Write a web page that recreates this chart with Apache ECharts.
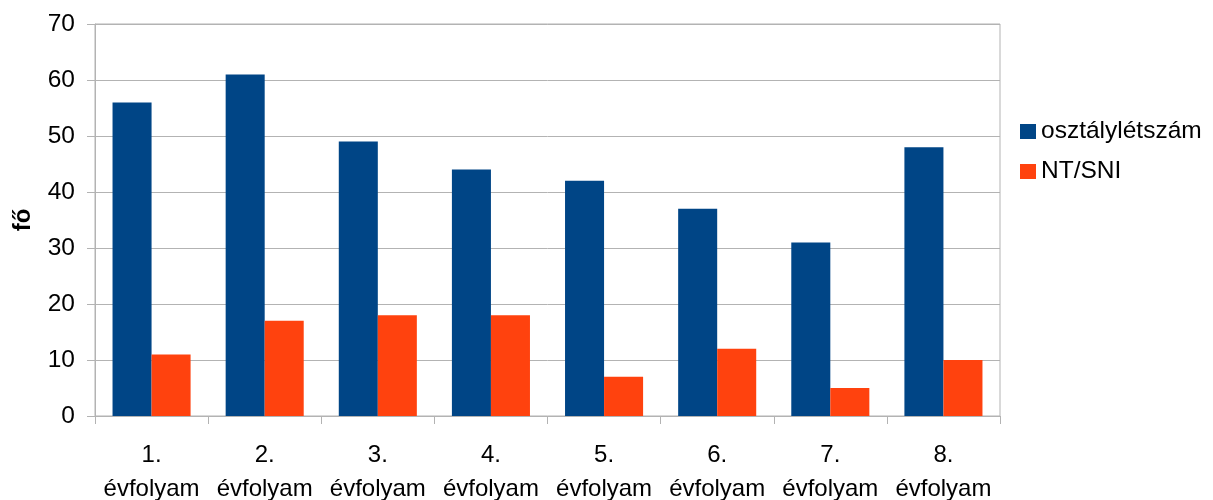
<!DOCTYPE html>
<html><head><meta charset="utf-8">
<script src="https://cdn.jsdelivr.net/npm/echarts@6/dist/echarts.min.js"></script>
<style>html,body{margin:0;padding:0;background:#fff;overflow:hidden}#c{width:1213px;height:500px}</style>
</head><body><div id="c"></div>
<script>
const categories = ["1.\névfolyam","2.\névfolyam","3.\névfolyam","4.\névfolyam","5.\névfolyam","6.\névfolyam","7.\névfolyam","8.\névfolyam"];
const osztalyletszam = [56, 61, 49, 44, 42, 37, 31, 48];
const ntSni = [11, 17, 18, 18, 7, 12, 5, 10];
const seriesNames = ["osztálylétszám", "NT/SNI"];
const yTicks = {min: 0, max: 70, interval: 10};

const chart = echarts.init(document.getElementById('c'));
const font = 'Liberation Sans, Arial, sans-serif';
chart.setOption({
  animation: false,
  textStyle: {fontFamily: font},
  grid: {left: 95, right: 213, top: 24, bottom: 84, outerBoundsMode: 'none', containLabel: false,
         show: true, borderColor: '#b3b3b3', borderWidth: 1},
  legend: {
    orient: 'vertical', left: 1015, top: 114, itemWidth: 16, itemHeight: 15, itemGap: 15,
    icon: 'rect',
    textStyle: {fontSize: 24.5, color: '#000', fontFamily: font},
    data: seriesNames
  },
  xAxis: {
    type: 'category', data: categories,
    axisLine: {lineStyle: {color: '#b3b3b3'}},
    axisTick: {show: true, length: 8, lineStyle: {color: '#b3b3b3'}},
    axisLabel: {fontSize: 24, color: '#000', lineHeight: 34, margin: 22, interval: 0}
  },
  yAxis: {
    type: 'value', min: yTicks.min, max: yTicks.max, interval: yTicks.interval,
    name: 'fő', nameLocation: 'middle', nameGap: 60, nameRotate: 90, nameMoveOverlap: false,
    nameTextStyle: {fontSize: 24, fontWeight: 'bold', color: '#000', fontFamily: font},
    axisLine: {show: true, lineStyle: {color: '#b3b3b3'}},
    axisTick: {show: true, length: 8, lineStyle: {color: '#b3b3b3'}},
    axisLabel: {fontSize: 24.5, color: '#000', margin: 20},
    splitLine: {lineStyle: {color: '#b3b3b3', width: 1}}
  },
  series: [
    {name: seriesNames[0], type: 'bar', data: osztalyletszam, barWidth: '34.5%', barGap: '0%', itemStyle: {color: '#004586'}},
    {name: seriesNames[1], type: 'bar', data: ntSni, barWidth: '34.5%', barGap: '0%', itemStyle: {color: '#ff420e'}}
  ]
});
</script></body></html>
